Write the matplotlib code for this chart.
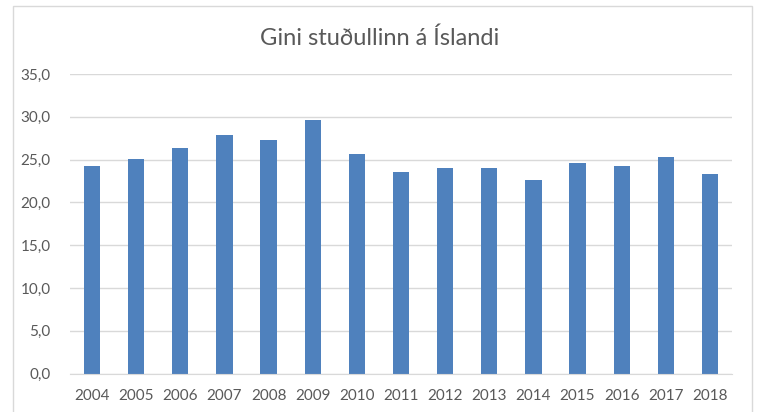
import matplotlib.pyplot as plt
from matplotlib.patches import Rectangle

years = ["2004", "2005", "2006", "2007", "2008", "2009", "2010", "2011",
         "2012", "2013", "2014", "2015", "2016", "2017", "2018"]
gini = [24.2, 25.1, 26.4, 27.9, 27.3, 29.6, 25.7, 23.5,
        24.0, 24.0, 22.6, 24.6, 24.2, 25.3, 23.3]
y_ticks = [0, 5, 10, 15, 20, 25, 30, 35]

plt.rcParams['font.family'] = ['Lato', 'DejaVu Sans']
text_color = '#595959'

fig = plt.figure(figsize=(7.59, 4.12), dpi=100)
ax = fig.add_axes([70 / 759, 1 - 373.5 / 412, 662 / 759, (373.5 - 74) / 412])

# outer chart border like the Excel chart area
fig.patches.append(Rectangle((13 / 759, -0.01), 739 / 759, 1 - 6 / 412 + 0.01,
                             transform=fig.transFigure, fill=False,
                             edgecolor='#d9d9d9', linewidth=1))

x = range(len(years))
ax.bar(x, gini, width=0.37, color='#4f81bd', zorder=2)

ax.set_xlim(-0.5, len(years) - 0.5)
ax.set_ylim(0, 35)
ax.set_yticks(y_ticks)
ax.set_yticklabels([f"{v:.1f}".replace('.', ',') for v in y_ticks])
ax.set_xticks(list(x))
ax.set_xticklabels(years)
ax.grid(axis='y', color='#d9d9d9', linewidth=1, zorder=0)
ax.tick_params(length=0, colors=text_color, labelsize=11)
ax.tick_params(axis='x', pad=11)
ax.tick_params(axis='y', pad=14)
for side in ['top', 'right', 'left']:
    ax.spines[side].set_visible(False)
ax.spines['bottom'].set_color('#d9d9d9')

fig.text(380 / 759, 1 - 38 / 412, 'Gini stuðullinn á Íslandi', ha='center', va='center',
         fontsize=17, color=text_color)

plt.savefig('out.png', dpi=100)
